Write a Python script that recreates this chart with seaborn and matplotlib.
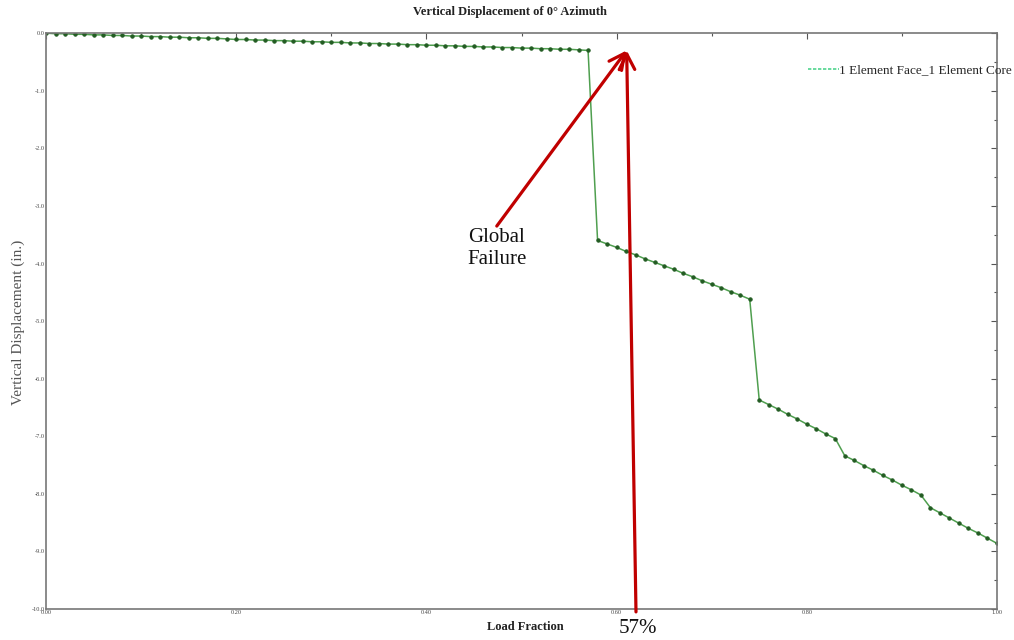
import numpy as np
import pandas as pd
import matplotlib
matplotlib.use("Agg")
import matplotlib.pyplot as plt
from matplotlib.lines import Line2D
from matplotlib.ticker import MultipleLocator, FormatStrFormatter
import seaborn as sns

# Load fraction steps (0.01 increments)
load_fraction = [
    0.00, 0.01, 0.02, 0.03, 0.04, 0.05, 0.06, 0.07, 0.08, 0.09,
    0.10, 0.11, 0.12, 0.13, 0.14, 0.15, 0.16, 0.17, 0.18, 0.19,
    0.20, 0.21, 0.22, 0.23, 0.24, 0.25, 0.26, 0.27, 0.28, 0.29,
    0.30, 0.31, 0.32, 0.33, 0.34, 0.35, 0.36, 0.37, 0.38, 0.39,
    0.40, 0.41, 0.42, 0.43, 0.44, 0.45, 0.46, 0.47, 0.48, 0.49,
    0.50, 0.51, 0.52, 0.53, 0.54, 0.55, 0.56, 0.57, 0.58, 0.59,
    0.60, 0.61, 0.62, 0.63, 0.64, 0.65, 0.66, 0.67, 0.68, 0.69,
    0.70, 0.71, 0.72, 0.73, 0.74, 0.75, 0.76, 0.77, 0.78, 0.79,
    0.80, 0.81, 0.82, 0.83, 0.84, 0.85, 0.86, 0.87, 0.88, 0.89,
    0.90, 0.91, 0.92, 0.93, 0.94, 0.95, 0.96, 0.97, 0.98, 0.99,
    1.00,
]

# Vertical displacement (in.) at each load step
displacement = [
    0.00, -0.01, -0.01, -0.02, -0.02, -0.03, -0.03, -0.04, -0.04, -0.05,
    -0.05, -0.06, -0.06, -0.07, -0.07, -0.08, -0.08, -0.09, -0.09, -0.10,
    -0.11, -0.11, -0.12, -0.12, -0.13, -0.13, -0.14, -0.14, -0.15, -0.15,
    -0.16, -0.16, -0.17, -0.17, -0.18, -0.18, -0.19, -0.19, -0.20, -0.20,
    -0.21, -0.21, -0.22, -0.22, -0.23, -0.23, -0.24, -0.24, -0.25, -0.25,
    -0.26, -0.26, -0.27, -0.27, -0.28, -0.28, -0.29, -0.30,
    -3.60, -3.66, -3.72, -3.79, -3.85, -3.92, -3.98, -4.04, -4.10, -4.17,
    -4.23, -4.30, -4.36, -4.42, -4.49, -4.55, -4.62,
    -6.37, -6.45, -6.53, -6.62, -6.70, -6.79, -6.87, -6.96, -7.04,
    -7.34, -7.42, -7.51, -7.59, -7.68, -7.76, -7.85, -7.93, -8.02,
    -8.24, -8.33, -8.42, -8.51, -8.60, -8.68, -8.77, -8.86,
]

series_name = "1 Element Face_1 Element Core"
x_ticks = [0.00, 0.20, 0.40, 0.60, 0.80, 1.00]
y_ticks = [0.0, -1.0, -2.0, -3.0, -4.0, -5.0, -6.0, -7.0, -8.0, -9.0, -10.0]

df = pd.DataFrame({"Load Fraction": load_fraction, "Displacement": displacement})

sns.set_theme(style="white")
plt.rcParams["font.family"] = ["Liberation Serif", "DejaVu Serif"]

fig = plt.figure(figsize=(10.14, 6.40), dpi=100)
ax = fig.add_axes([0.0454, 0.0484, 0.9378, 0.8998])

sns.lineplot(
    data=df, x="Load Fraction", y="Displacement", ax=ax,
    color="#4f9f4f", linewidth=1.1, marker="o", markersize=2.4,
    markerfacecolor="#235c23", markeredgecolor="#235c23", legend=False,
)

ax.set_xlim(0.0, 1.0)
ax.set_ylim(-10.0, 0.0)
ax.set_xticks(x_ticks)
ax.set_yticks(y_ticks)
ax.xaxis.set_minor_locator(MultipleLocator(0.1))
ax.yaxis.set_minor_locator(MultipleLocator(0.5))
ax.xaxis.set_major_formatter(FormatStrFormatter("%.2f"))
ax.yaxis.set_major_formatter(FormatStrFormatter("%.1f"))
ax.tick_params(which="both", direction="in", top=True, right=True,
               color="#555555", labelsize=4.5, labelcolor="#444444", width=0.8)
ax.tick_params(which="major", length=4)
ax.tick_params(which="minor", length=2.5)
ax.tick_params(axis="x", pad=1)
ax.tick_params(axis="y", pad=1)
for sp in ax.spines.values():
    sp.set_color("#777777")
    sp.set_linewidth(1.2)

ax.set_xlabel("")
ax.set_ylabel("")
fig.text(0.503, 0.981, "Vertical Displacement of 0° Azimuth", ha="center", va="center",
         fontsize=9, fontweight="bold", color="#222222")
fig.text(0.518, 0.020, "Load Fraction", ha="center", va="center",
         fontsize=9, fontweight="bold", color="#222222")
fig.text(0.018, 0.497, "Vertical Displacement (in.)", ha="center", va="center",
         rotation=90, fontsize=11, color="#555555")

handle = Line2D([], [], color="#4fd48e", linestyle=(0, (2, 1)), linewidth=1.2)
ax.legend([handle], [series_name], loc="center left", bbox_to_anchor=(0.796, 0.936),
          frameon=False, fontsize=9.5, handlelength=2.3, handletextpad=0.0,
          borderaxespad=0.0)

red = "#c00000"
ax.annotate("", xy=(0.6106, -0.30), xytext=(0.474, -3.35),
            arrowprops=dict(arrowstyle="->", color=red, lw=2.3, mutation_scale=28,
                            shrinkA=0, shrinkB=0), annotation_clip=False)
ax.annotate("", xy=(0.6106, -0.30), xytext=(0.6204, -10.05),
            arrowprops=dict(arrowstyle="->", color=red, lw=2.3, mutation_scale=28,
                            shrinkA=0, shrinkB=0), annotation_clip=False)
ax.text(0.474, -3.74, "Global\nFailure", ha="center", va="center",
        fontsize=15, color="#111111", linespacing=1.2)
ax.text(0.622, -10.33, "57%", ha="center", va="center", fontsize=15,
        color="#111111", clip_on=False)

fig.savefig("out.png", dpi=100, facecolor="white")
